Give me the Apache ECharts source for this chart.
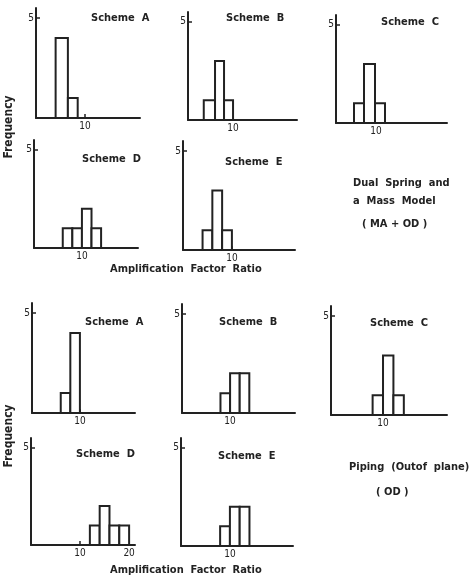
<!DOCTYPE html>
<html>
<head>
<meta charset="utf-8">
<script src="https://cdn.jsdelivr.net/npm/echarts@6/dist/echarts.min.js"></script>
<style>html,body{margin:0;padding:0;background:#fff}#c{width:474px;height:582px}</style>
</head>
<body>
<div id="c"></div>
<script>
// ---- data: histogram bin edges and frequencies ----
const panelNames = ['Scheme A','Scheme B','Scheme C','Scheme D','Scheme E','Scheme A','Scheme B','Scheme C','Scheme D','Scheme E'];
const topA_edges = [4, 6.5, 8.5];            const topA_counts = [4, 1];
const topB_edges = [3.5, 6, 8, 10];          const topB_counts = [1, 3, 1];
const topC_edges = [4.5, 7, 9.75, 12.25];    const topC_counts = [1, 3, 1];
const topD_edges = [6, 8, 10, 12, 14];       const topD_counts = [1, 1, 2, 1];
const topE_edges = [4, 6, 8, 10];            const topE_counts = [1, 3, 1];
const botA_edges = [6, 8, 10];               const botA_counts = [1, 4];
const botB_edges = [8, 10, 12, 14];          const botB_counts = [1, 2, 2];
const botC_edges = [8, 10, 12, 14];          const botC_counts = [1, 3, 1];
const botD_edges = [12, 14, 16, 18, 20];     const botD_counts = [1, 2, 1, 1];
const botE_edges = [8, 10, 12, 14];          const botE_counts = [1, 2, 2];
const xTickLabels = [[10],[10],[10],[10],[10],[10],[10],[10],[10,20],[10]];
const yTickLabels = [5];
const xMaxes = [21.2, 24.2, 27.75, 21.7, 22.9, 21.5, 23.5, 22.3, 21.2, 22.9];

const edges = [topA_edges, topB_edges, topC_edges, topD_edges, topE_edges, botA_edges, botB_edges, botC_edges, botD_edges, botE_edges];
const counts = [topA_counts, topB_counts, topC_counts, topD_counts, topE_counts, botA_counts, botB_counts, botC_counts, botD_counts, botE_counts];

// ---- layout (pixels) ----
// [left(y-axis x), right end of x-axis, top, baseline]
const boxes = [
  [36, 140, 8, 118],
  [188, 297, 12, 120],
  [336, 447, 15, 123],
  [34, 138, 140, 248],
  [183, 295, 141, 250],
  [32, 135, 303, 413],
  [182, 295, 304, 413],
  [331, 447, 306, 415],
  [31, 135, 438, 545],
  [181, 293, 438, 546]
];
const titlePos = [[91,18],[226,18],[381,22],[82,159],[225,162],[85,322],[219,322],[370,323],[76,454],[218,456]];

const ink = '#222';
const fontFam = "'Liberation Sans Narrow','DejaVu Sans Condensed',sans-serif";

const grids = [], xAxes = [], yAxes = [], series = [], graphics = [];
boxes.forEach((b, i) => {
  grids.push({left: b[0], top: b[2], width: b[1] - b[0], height: b[3] - b[2], containLabel: false, outerBoundsMode: 'none'});
  xAxes.push({
    gridIndex: i, type: 'value', min: 0, max: xMaxes[i], interval: 10,
    splitLine: {show: false},
    axisLine: {onZero: false, lineStyle: {color: ink, width: 2}},
    axisTick: {show: true, inside: true, length: 4, customValues: xTickLabels[i], lineStyle: {color: ink, width: 1.5}},
    axisLabel: {customValues: xTickLabels[i], color: ink, fontSize: 10, margin: 3, fontFamily: fontFam}
  });
  yAxes.push({
    gridIndex: i, type: 'value', min: 0, max: 5.5,
    splitLine: {show: false},
    axisLine: {show: true, onZero: false, lineStyle: {color: ink, width: 2}},
    axisTick: {show: true, inside: true, length: 4, customValues: yTickLabels, lineStyle: {color: ink, width: 1.5}},
    axisLabel: {customValues: yTickLabels, color: ink, fontSize: 10, margin: 2, fontFamily: fontFam}
  });
  const data = counts[i].map((c, k) => [edges[i][k], edges[i][k + 1], c]);
  series.push({
    type: 'custom', xAxisIndex: i, yAxisIndex: i, data: data,
    encode: {x: [0, 1], y: 2},
    renderItem: function (params, api) {
      const p0 = api.coord([api.value(0), 0]);
      const p1 = api.coord([api.value(1), api.value(2)]);
      return {type: 'rect', shape: {x: p0[0], y: p1[1], width: p1[0] - p0[0], height: p0[1] - p1[1]},
              style: {fill: '#fff', stroke: ink, lineWidth: 2}};
    }
  });
  graphics.push({type: 'text', x: titlePos[i][0], y: titlePos[i][1],
    style: {text: panelNames[i].replace(' ', '  '), fill: ink, font: 'bold 11px ' + fontFam, textVerticalAlign: 'middle'}});
});

const notes = [
  ['Dual  Spring  and', 353, 183],
  ['a  Mass  Model', 353, 201],
  ['( MA + OD )', 362, 224],
  ['Piping  (Outof  plane)', 349, 467],
  ['( OD )', 376, 492],
  ['Amplification  Factor  Ratio', 110, 269],
  ['Amplification  Factor  Ratio', 110, 570]
];
notes.forEach(n => graphics.push({type: 'text', x: n[1], y: n[2],
  style: {text: n[0], fill: ink, font: 'bold 11px ' + fontFam, textVerticalAlign: 'middle'}}));
[[9, 127], [9, 436]].forEach(p => graphics.push({type: 'text', x: p[0], y: p[1], rotation: Math.PI / 2,
  style: {text: 'Frequency', fill: ink, font: 'bold 12px ' + fontFam, textAlign: 'center', textVerticalAlign: 'middle'}}));

const chart = echarts.init(document.getElementById('c'), null, {renderer: 'canvas'});
chart.setOption({
  animation: false,
  backgroundColor: '#fff',
  grid: grids, xAxis: xAxes, yAxis: yAxes, series: series, graphic: graphics
});
</script>
</body>
</html>
